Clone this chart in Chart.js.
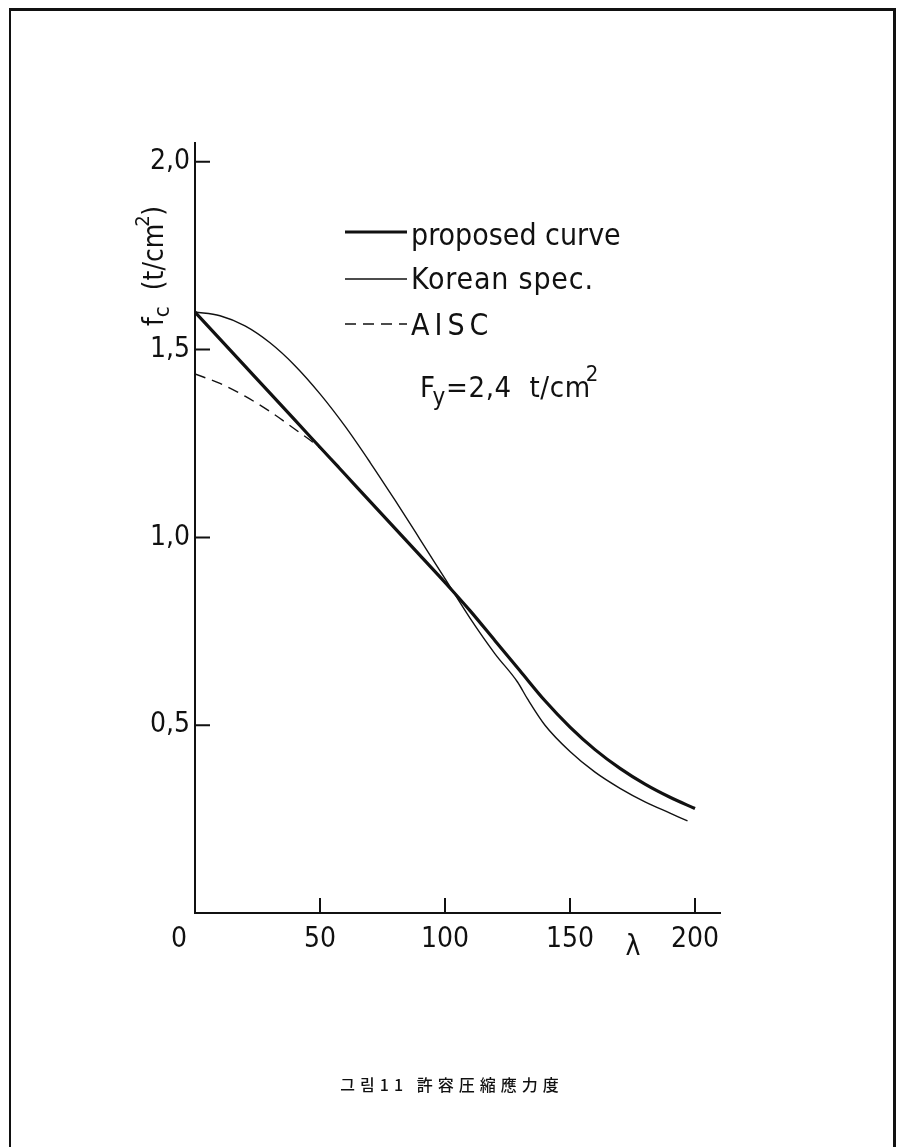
<!DOCTYPE html>
<html>
<head>
<meta charset="utf-8">
<script src="https://cdn.jsdelivr.net/npm/chart.js@4.4.1/dist/chart.umd.min.js"></script>
<style>
    html, body { margin: 0; padding: 0; background: #fff; }
    #page { position: relative; width: 904px; height: 1147px; overflow: hidden; }
    #frame {
        position: absolute; left: 9px; top: 8px; width: 882px; height: 1160px;
        border-left: 2px solid #111; border-top: 3px solid #111; border-right: 3px solid #111;
    }
    #caption {
        position: absolute; left: 0; width: 904px; top: 1072px; text-align: center;
        font-family: 'Noto Sans CJK KR', sans-serif; font-size: 16px; font-weight: 500; color: #111;
        letter-spacing: 5px;
    }
    canvas { position: absolute; left: 0; top: 0; }
</style>
</head>
<body>
<div id="page">
    <div id="frame"></div>
    <canvas id="chart" width="904" height="1147"></canvas>
    <div id="caption">그림11 許容圧縮應力度</div>
</div>
<script>
// slenderness ratio (lambda) and allowable compressive stress fc (t/cm2)
const propLambda = [0, 10, 20, 30, 40, 50, 60, 70, 80, 90, 100, 110, 120, 130, 140, 150, 160, 170, 180, 190, 200];
const propValues = [1.60, 1.528, 1.456, 1.384, 1.312, 1.24, 1.168, 1.096, 1.024, 0.952, 0.88, 0.805, 0.725, 0.645, 0.565, 0.495, 0.435, 0.385, 0.343, 0.308, 0.278];

const korLambda = [0, 10, 20, 30, 40, 50, 60, 70, 80, 90, 100, 110, 120, 129, 133, 140, 150, 160, 170, 180, 190, 197];
const korValues = [1.60, 1.59, 1.563, 1.518, 1.457, 1.382, 1.296, 1.20, 1.099, 0.995, 0.89, 0.785, 0.69, 0.615, 0.57, 0.50, 0.43, 0.375, 0.332, 0.296, 0.266, 0.245];

const aiscLambda = [0, 10, 20, 30, 40, 50, 58];
const aiscValues = [1.435, 1.41, 1.376, 1.335, 1.288, 1.238, 1.186];

const seriesLabels = ['proposed curve', 'Korean spec.', 'AISC'];
const xTicks = [0, 50, 100, 150, 200];
const yTicks = [0.5, 1.0, 1.5, 2.0];

const FONT = "'Liberation Sans Narrow', 'DejaVu Sans Condensed', 'Liberation Sans', sans-serif";

function toPoints(xs, ys) {
    return xs.map((x, i) => ({ x: x, y: ys[i] }));
}

function spacing(ctx, px) {
    if ('letterSpacing' in ctx) ctx.letterSpacing = px + 'px';
}

// inward tick marks, legend, Fy note, axis titles
const figureExtras = {
    id: 'figureExtras',
    afterDraw(chart) {
        const ctx = chart.ctx;
        const xs = chart.scales.x;
        const ys = chart.scales.y;
        const area = chart.chartArea;
        ctx.save();
        ctx.strokeStyle = '#111';
        ctx.lineWidth = 2;
        ctx.beginPath();
        xTicks.filter(v => v > 0).forEach(v => {
            const px = xs.getPixelForValue(v);
            ctx.moveTo(px, area.bottom);
            ctx.lineTo(px, area.bottom - 15);
        });
        yTicks.forEach(v => {
            const py = ys.getPixelForValue(v);
            ctx.moveTo(area.left, py);
            ctx.lineTo(area.left + 15, py);
        });
        ctx.stroke();

        // legend
        ctx.fillStyle = '#111';
        ctx.textBaseline = 'alphabetic';
        ctx.textAlign = 'left';
        ctx.font = '30px ' + FONT;
        const rows = [
            { y: 232, base: 245, sp: 0 },
            { y: 279, base: 289, sp: 0.8 },
            { y: 324, base: 335, sp: 5 }
        ];
        chart.data.datasets.forEach((ds, i) => {
            const r = rows[i];
            ctx.lineWidth = ds.borderWidth;
            ctx.setLineDash(ds.borderDash || []);
            ctx.beginPath();
            ctx.moveTo(345, r.y);
            ctx.lineTo(407, r.y);
            ctx.stroke();
            ctx.setLineDash([]);
            spacing(ctx, r.sp);
            ctx.fillText(ds.label, 411, r.base);
        });

        // Fy = 2.4 t/cm2
        spacing(ctx, 0.6);
        let x = 420;
        const fyBase = 397;
        ctx.font = '29px ' + FONT;
        ctx.fillText('F', x, fyBase);
        x += ctx.measureText('F').width;
        ctx.font = '24px ' + FONT;
        ctx.fillText('y', x - 3, fyBase + 8);
        x += ctx.measureText('y').width - 3;
        ctx.font = '29px ' + FONT;
        const mid = '=2,4  t/cm';
        ctx.fillText(mid, x, fyBase);
        x += ctx.measureText(mid).width;
        ctx.font = '22px ' + FONT;
        ctx.fillText('2', x - 5, fyBase - 16);
        spacing(ctx, 0);

        // x axis title
        ctx.font = '28px ' + FONT;
        ctx.textAlign = 'center';
        ctx.fillText('\u03bb', 633, 955);

        // y axis title, rotated
        ctx.translate(163, 326);
        ctx.rotate(-Math.PI / 2);
        ctx.textAlign = 'left';
        let t = 0;
        ctx.font = '28px ' + FONT;
        ctx.fillText('f', t, 0);
        t += ctx.measureText('f').width;
        ctx.font = '22px ' + FONT;
        ctx.fillText('c', t, 6);
        t += ctx.measureText('c').width;
        ctx.font = '28px ' + FONT;
        const unit = '  (t/cm';
        ctx.fillText(unit, t, 0);
        t += ctx.measureText(unit).width;
        ctx.font = '20px ' + FONT;
        ctx.fillText('2', t - 3, -14);
        ctx.font = '28px ' + FONT;
        ctx.fillText(')', t + 8, 0);
        ctx.restore();
    }
};

new Chart(document.getElementById('chart'), {
    type: 'line',
    data: {
        datasets: [
            {
                label: seriesLabels[0],
                data: toPoints(propLambda, propValues),
                borderColor: '#111',
                borderWidth: 3.2,
                pointRadius: 0,
                cubicInterpolationMode: 'monotone'
            },
            {
                label: seriesLabels[1],
                data: toPoints(korLambda, korValues),
                borderColor: '#111',
                borderWidth: 1.4,
                pointRadius: 0,
                cubicInterpolationMode: 'monotone'
            },
            {
                label: seriesLabels[2],
                data: toPoints(aiscLambda, aiscValues),
                borderColor: '#111',
                borderWidth: 1.4,
                borderDash: [11, 7],
                pointRadius: 0,
                cubicInterpolationMode: 'monotone'
            }
        ]
    },
    options: {
        responsive: false,
        animation: false,
        devicePixelRatio: 1,
        layout: { padding: { left: 0, top: 143, right: 184, bottom: 174 } },
        plugins: {
            legend: { display: false },
            tooltip: { enabled: false }
        },
        scales: {
            x: {
                type: 'linear',
                min: 0,
                max: 210,
                grid: { display: false, drawTicks: false },
                border: { display: true, color: '#111', width: 2 },
                afterBuildTicks: (scale) => {
                    scale.ticks = xTicks.map(v => ({ value: v }));
                },
                afterFit: (scale) => { scale.height = 60; },
                ticks: {
                    padding: 10,
                    color: '#111',
                    font: { family: FONT, size: 28 },
                    maxRotation: 0,
                    autoSkip: false,
                    // the origin label sits a little left of the corner in the figure
                    callback: (v) => v === 0 ? '0    ' : String(v)
                }
            },
            y: {
                type: 'linear',
                min: 0,
                max: 2.05,
                grid: { display: false, drawTicks: false },
                border: { display: true, color: '#111', width: 2 },
                afterBuildTicks: (scale) => {
                    scale.ticks = yTicks.map(v => ({ value: v }));
                },
                afterFit: (scale) => { scale.width = 195; },
                ticks: {
                    padding: 5,
                    color: '#111',
                    font: { family: FONT, size: 28 },
                    autoSkip: false,
                    callback: (v) => v.toFixed(1).replace('.', ',')
                }
            }
        }
    },
    plugins: [figureExtras]
});
</script>
</body>
</html>
